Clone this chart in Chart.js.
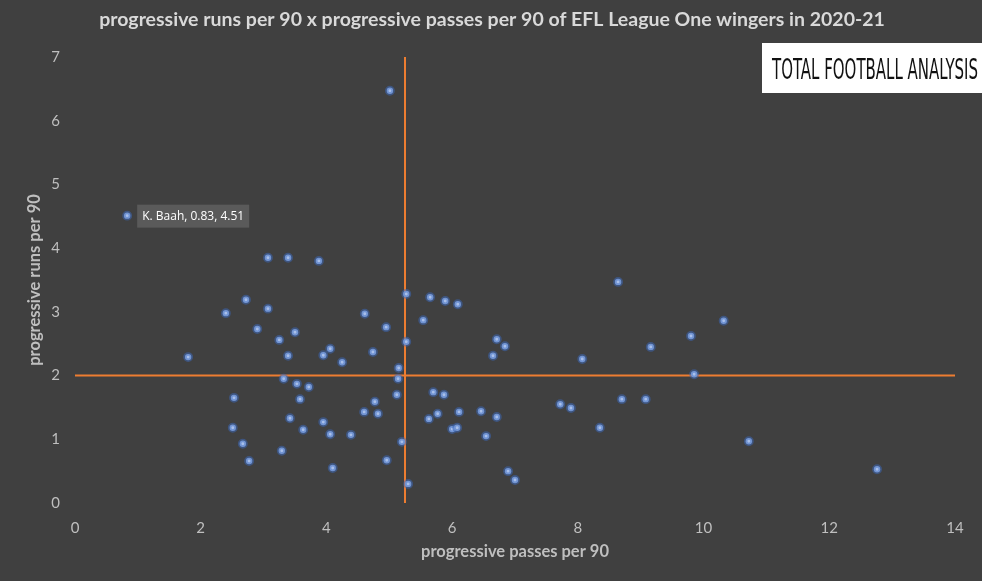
<!DOCTYPE html>
<html>
<head>
<meta charset="utf-8">
<script src="https://cdn.jsdelivr.net/npm/chart.js@4.4.1/dist/chart.umd.min.js"></script>
<style>
html,body{margin:0;padding:0;background:#404040;}
#wrap{width:982px;height:581px;position:relative;}
</style>
</head>
<body>
<div id="wrap"><canvas id="c" width="982" height="581"></canvas></div>
<script>
const chartTitle = "progressive runs per 90 x progressive passes per 90 of EFL League One wingers in 2020-21";
const xTitle = "progressive passes per 90";
const yTitle = "progressive runs per 90";
const logoText = "TOTAL FOOTBALL ANALYSIS";

const passes = [5.01,0.83,3.07,3.39,3.88,8.64,2.72,5.27,5.65,5.89,6.09,2.40,3.07,4.61,5.54,10.32,2.90,3.50,4.95,3.25,
  6.71,5.27,9.80,9.16,6.84,3.39,4.06,3.95,4.25,4.74,6.65,1.80,8.07,5.15,9.85,5.14,3.32,3.53,3.72,5.70,
  5.87,5.12,2.53,3.58,8.70,9.08,4.77,7.72,7.89,4.60,5.77,4.82,6.11,6.46,6.71,3.42,5.63,3.95,3.63,2.51,
  6.00,6.08,8.35,4.06,4.39,6.54,2.67,5.20,10.72,3.29,2.77,4.96,4.10,6.89,7.00,12.76,5.30];
const runs = [6.47,4.51,3.85,3.85,3.80,3.47,3.19,3.28,3.23,3.17,3.12,2.98,3.05,2.97,2.87,2.86,2.73,2.68,2.76,2.56,
  2.57,2.53,2.62,2.45,2.46,2.31,2.42,2.32,2.21,2.37,2.31,2.29,2.26,2.12,2.02,1.95,1.95,1.87,1.82,1.74,
  1.70,1.70,1.65,1.63,1.63,1.63,1.59,1.55,1.49,1.43,1.40,1.40,1.43,1.44,1.35,1.33,1.32,1.27,1.15,1.18,
  1.16,1.18,1.18,1.08,1.07,1.05,0.93,0.96,0.97,0.82,0.66,0.67,0.55,0.50,0.36,0.53,0.30];
const labelledPlayer = "K. Baah";
const labelledIndex = 1;
const avgPasses = 5.25;
const avgRuns = 2.0;
const xRange = [0, 14];
const yRange = [0, 7];

const pts = passes.map((x, i) => ({x: x, y: runs[i]}));

const overlay = {
  id: 'overlay',
  afterDraw(chart) {
    const ctx = chart.ctx;
    const xs = chart.scales.x, ys = chart.scales.y;
    ctx.save();
    // title
    ctx.fillStyle = '#d9d9d9';
    ctx.font = 'bold 19.5px Lato, "Open Sans", sans-serif';
    ctx.textAlign = 'center';
    ctx.textBaseline = 'middle';
    ctx.fillText(chartTitle, 492, 20);
    // logo
    ctx.fillStyle = '#ffffff';
    ctx.fillRect(762, 43, 220, 50);
    ctx.fillStyle = '#111111';
    ctx.strokeStyle = '#111111';
    ctx.font = '300 24px "DejaVu Sans Condensed", "Liberation Sans Narrow", sans-serif';
    ctx.textAlign = 'left';
    ctx.textBaseline = 'alphabetic';
    const w = ctx.measureText(logoText).width;
    ctx.translate(772, 79);
    ctx.scale(206 / w, 1.15);
    ctx.fillText(logoText, 0, 0);
    ctx.restore();
    // data label
    ctx.save();
    const px = xs.getPixelForValue(passes[labelledIndex]);
    const py = ys.getPixelForValue(runs[labelledIndex]);
    const txt = labelledPlayer + ', ' + passes[labelledIndex].toFixed(2) + ', ' + runs[labelledIndex].toFixed(2);
    ctx.font = '12px "Open Sans", sans-serif';
    const tw = ctx.measureText(txt).width;
    ctx.fillStyle = '#5a5a5a';
    ctx.fillRect(px + 10, py - 11, tw + 10, 23);
    ctx.fillStyle = '#ffffff';
    ctx.textBaseline = 'middle';
    ctx.textAlign = 'left';
    ctx.fillText(txt, px + 15, py + 1);
    ctx.restore();
  }
};

new Chart(document.getElementById('c'), {
  type: 'scatter',
  data: {
    datasets: [
      {
        data: [{x: avgPasses, y: yRange[0]}, {x: avgPasses, y: yRange[1]}],
        showLine: true, borderColor: '#ed7d31', borderWidth: 2, pointRadius: 0, order: 2
      },
      {
        data: [{x: xRange[0], y: avgRuns}, {x: xRange[1], y: avgRuns}],
        showLine: true, borderColor: '#ed7d31', borderWidth: 2, pointRadius: 0, order: 2
      },
      {
        data: pts,
        pointRadius: 3.2,
        pointBackgroundColor: '#a9c0ea',
        pointBorderColor: 'rgba(60,105,190,0.5)',
        pointBorderWidth: 3.5,
        order: 1
      }
    ]
  },
  options: {
    responsive: false,
    animation: false,
    devicePixelRatio: 1,
    layout: {padding: {top: 57, right: 27, bottom: 0, left: 0}},
    plugins: {legend: {display: false}, tooltip: {enabled: false}, title: {display: false}},
    scales: {
      x: {
        type: 'linear', min: xRange[0], max: xRange[1],
        grid: {display: false, drawTicks: false}, border: {display: false},
        ticks: {stepSize: 2, color: '#bfbfbf', font: {size: 15, family: 'Lato, sans-serif'}, padding: 16},
        title: {display: true, text: xTitle, color: '#bfbfbf', font: {size: 16.5, weight: 'bold', family: 'Lato, sans-serif'}, padding: {top: 0, bottom: 19}},
        afterFit(s) { s.height = 78; }
      },
      y: {
        type: 'linear', min: yRange[0], max: yRange[1],
        grid: {display: false, drawTicks: false}, border: {display: false},
        ticks: {stepSize: 1, color: '#bfbfbf', font: {size: 15, family: 'Lato, sans-serif'}, padding: 15},
        title: {display: true, text: yTitle, color: '#bfbfbf', font: {size: 16.5, weight: 'bold', family: 'Lato, sans-serif'}, padding: {top: 25, bottom: 0}},
        afterFit(s) { s.width = 75; }
      }
    }
  },
  plugins: [overlay, {
    id: 'bg',
    beforeDraw(chart) {
      const ctx = chart.ctx;
      ctx.save();
      ctx.fillStyle = '#404040';
      ctx.fillRect(0, 0, chart.width, chart.height);
      ctx.restore();
    }
  }]
});
</script>
</body>
</html>
